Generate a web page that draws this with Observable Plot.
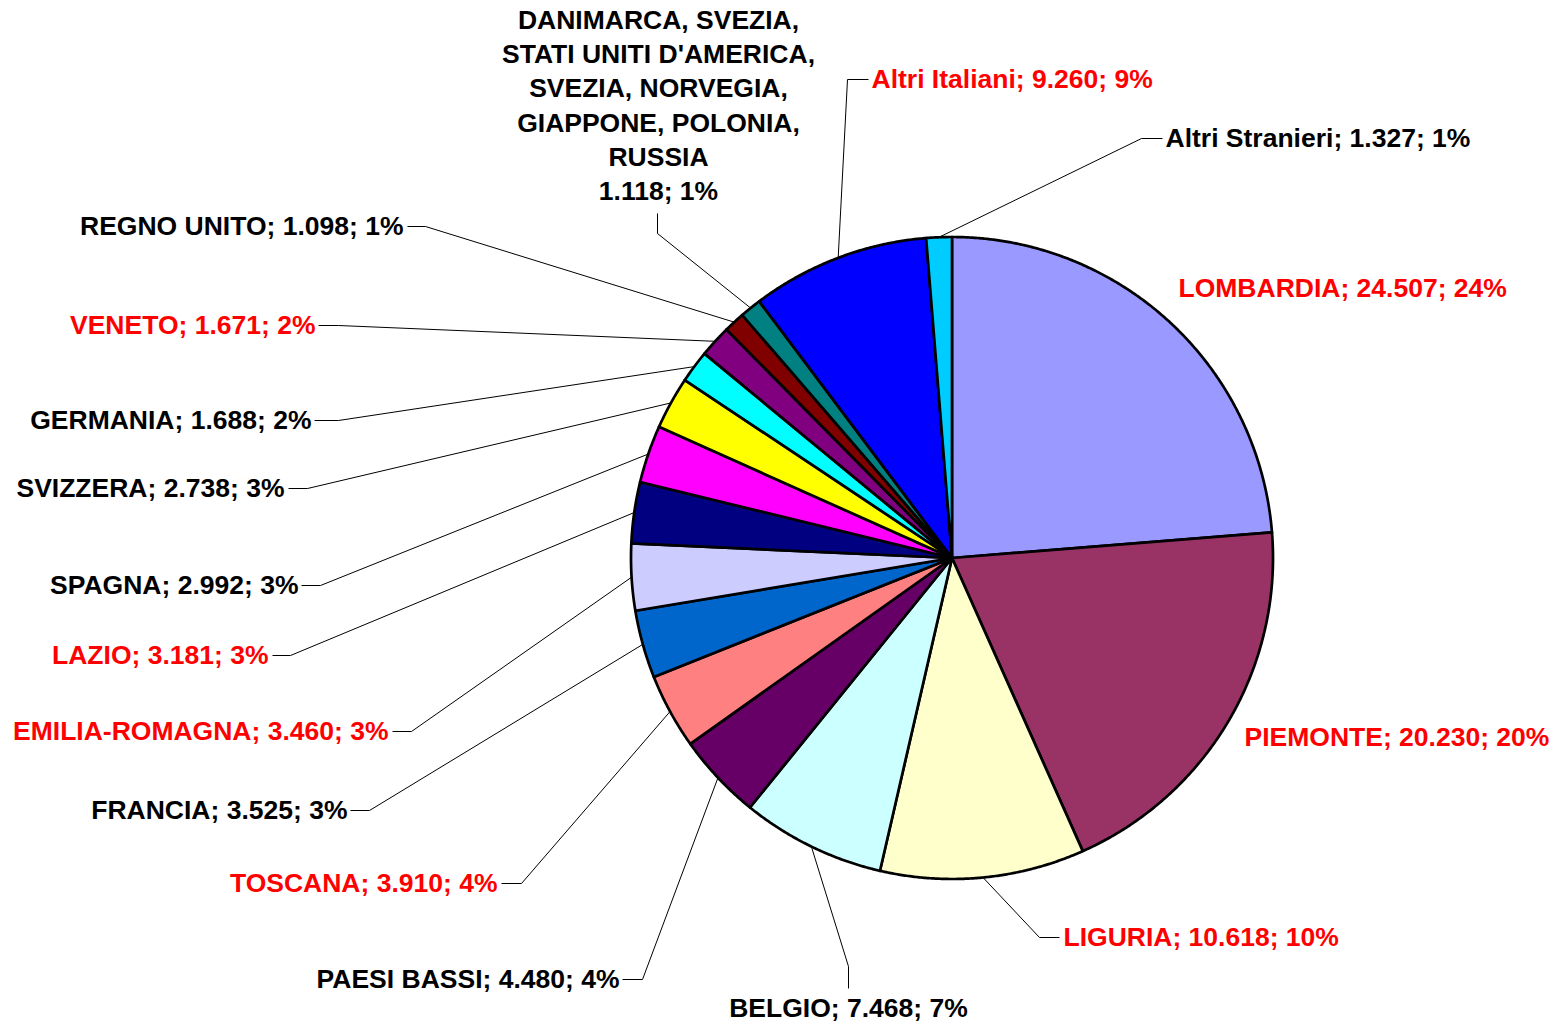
<!DOCTYPE html>
<html><head><meta charset="utf-8">
<script src="https://cdn.jsdelivr.net/npm/d3@7"></script>
<script src="https://cdn.jsdelivr.net/npm/@observablehq/plot@0.6"></script>
<style>body{margin:0;background:#fff;overflow:hidden}</style>
</head><body><div id="chart"></div>
<script>
// ---- data ----
const categories = ["LOMBARDIA","PIEMONTE","LIGURIA","BELGIO","PAESI BASSI","TOSCANA","FRANCIA","EMILIA-ROMAGNA","LAZIO","SPAGNA","SVIZZERA","GERMANIA","VENETO","REGNO UNITO","DANIMARCA, SVEZIA,\nSTATI UNITI D'AMERICA,\nSVEZIA, NORVEGIA,\nGIAPPONE, POLONIA,\nRUSSIA","Altri Italiani","Altri Stranieri"];
const values = [24507,20230,10618,7468,4480,3910,3525,3460,3181,2992,2738,1688,1671,1098,1118,9260,1327];
const origin = ["Italia","Italia","Italia","Estero","Estero","Italia","Estero","Italia","Italia","Estero","Estero","Estero","Italia","Estero","Estero","Italia","Estero"];
const sliceColors = ["#9999FF","#993366","#FFFFCC","#CCFFFF","#660066","#FF8080","#0066CC","#CCCCFF","#000080","#FF00FF","#FFFF00","#00FFFF","#800080","#800000","#008080","#0000FF","#00CCFF"];
const originColors = {Italia: "#FF0000", Estero: "#000000"};

// ---- layout (pixels) ----
const W = 1557, H = 1025, CX = 951.5, CY = 557.5, R = 321;
const labelLayout = [
  {x:1178, y:288, anchor:"start"},
  {x:1244, y:737, anchor:"start"},
  {x:1063, y:937, anchor:"start",  elbow:[1039,937], end:[1059,937]},
  {x:848,  y:1008, anchor:"middle", elbow:[848,966], end:[848,988]},
  {x:619,  y:979, anchor:"end",    elbow:[642,979], end:[622,979]},
  {x:497,  y:883, anchor:"end",    elbow:[521,883], end:[501,883]},
  {x:347,  y:810, anchor:"end",    elbow:[369,810], end:[350,810]},
  {x:388,  y:731, anchor:"end",    elbow:[411,731], end:[392,731]},
  {x:268,  y:655, anchor:"end",    elbow:[290,655], end:[272,655]},
  {x:298,  y:585, anchor:"end",    elbow:[320,585], end:[301,585]},
  {x:284,  y:488, anchor:"end",    elbow:[307,488], end:[288,488]},
  {x:311,  y:420, anchor:"end",    elbow:[338,420], end:[314,420]},
  {x:315,  y:325, anchor:"end",    elbow:[338,325], end:[318,325]},
  {x:403,  y:226, anchor:"end",    elbow:[425,226], end:[407,226]},
  {x:658,  y:105, anchor:"middle", elbow:[657,233], end:[657,213]},
  {x:871,  y:79,  anchor:"start",  elbow:[847,79],  end:[868,79]},
  {x:1165, y:138, anchor:"start",  elbow:[1141,138], end:[1162,138]}
];

// ---- derived ----
const total = d3.sum(values);
const arcs = d3.pie().sort(null).value(d => d)(values);
const fmtNum = v => d3.format(",")(v).replace(/,/g, ".");
const slicePts = [];
const leaderPts = [];
const labels = [];
arcs.forEach((a, i) => {
  const name = categories[i];
  const a0 = a.startAngle, a1 = a.endAngle;
  const n = Math.max(2, Math.ceil((a1 - a0) / 0.005));
  slicePts.push({name, x: CX, y: CY});
  for (let k = 0; k <= n; k++) {
    const t = a0 + (a1 - a0) * k / n;
    slicePts.push({name, x: CX + R * Math.sin(t), y: CY - R * Math.cos(t)});
  }
  slicePts.push({name, x: CX, y: CY});
  const L = labelLayout[i];
  if (L.elbow) {
    const m = (a0 + a1) / 2;
    leaderPts.push({name, x: CX + R * Math.sin(m), y: CY - R * Math.cos(m)});
    leaderPts.push({name, x: L.elbow[0], y: L.elbow[1]});
    leaderPts.push({name, x: L.end[0], y: L.end[1]});
  }
  const pct = Math.round(values[i] / total * 100);
  const sep = name.includes("\n") ? "\n" : "; ";
  labels.push({text: `${name}${sep}${fmtNum(values[i])}; ${pct}%`, x: L.x, y: L.y, anchor: L.anchor, color: originColors[origin[i]]});
});

const textMarks = labels.map(l => Plot.text([l], {
  x: "x", y: "y", text: "text", textAnchor: l.anchor, lineAnchor: "middle",
  fill: l.color, fontSize: 26.5, fontWeight: "bold", lineHeight: 1.295, dy: -2,
  fontFamily: "'Liberation Sans', Arial, sans-serif"
}));

const chart = Plot.plot({
  width: W, height: H, margin: 0,
  x: {domain: [0, W], range: [0, W], axis: null},
  y: {domain: [0, H], range: [0, H], axis: null},
  color: {domain: categories, range: sliceColors},
  style: {background: "#fff"},
  marks: [
    Plot.line(leaderPts, {x: "x", y: "y", z: "name", stroke: "#000", strokeWidth: 1, curve: "linear", strokeLinejoin: "miter", strokeLinecap: "butt"}),
    Plot.line(slicePts, {x: "x", y: "y", z: "name", fill: "name", stroke: "#000", strokeWidth: 2.7, curve: "linear"}),
    ...textMarks
  ]
});
document.getElementById("chart").appendChild(chart);
</script>
</body></html>
